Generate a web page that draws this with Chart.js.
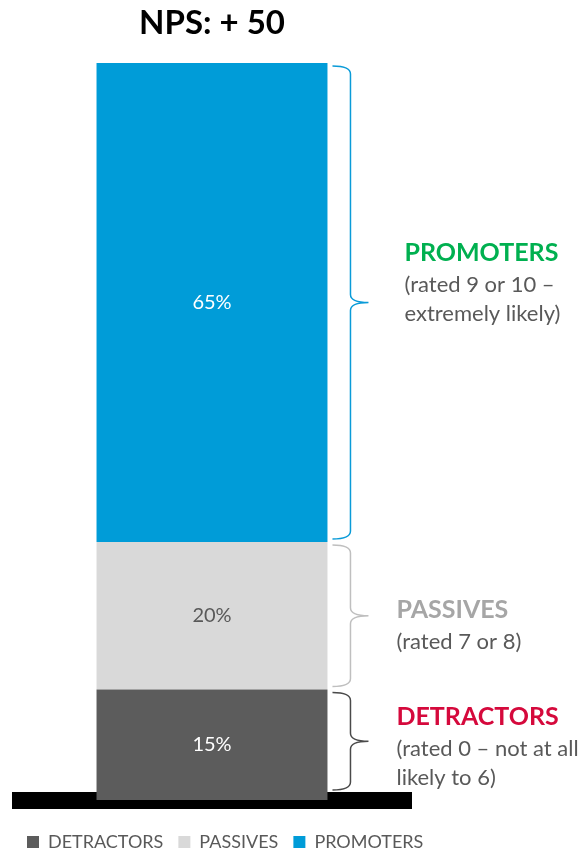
<!DOCTYPE html>
<html>
<head>
<meta charset="utf-8">
<title>NPS</title>
<script src="https://cdn.jsdelivr.net/npm/chart.js@4.4.1/dist/chart.umd.min.js"></script>
<style>
  html, body { margin: 0; padding: 0; background: #fff; overflow: hidden; }
  #wrap { position: relative; width: 583px; height: 861px; }
</style>
</head>
<body>
<div id="wrap"><canvas id="npsChart"></canvas></div>
<script>
// NPS breakdown, bottom to top
const categories = ['NPS'];
const seriesNames = ['DETRACTORS', 'PASSIVES', 'PROMOTERS'];
const seriesValues = [15, 20, 65];
const noteTitles = ['DETRACTORS', 'PASSIVES', 'PROMOTERS'];
const noteLines = [
  ['(rated 0 \u2013 not at all', 'likely to 6)'],
  ['(rated 7 or 8)'],
  ['(rated 9 or 10 \u2013', 'extremely likely)']
];

const barColors = ['#5c5c5c', '#d9d9d9', '#009cd8'];
const valueColors = ['#ffffff', '#595959', '#ffffff'];
const braceColors = ['#4a4a4a', '#bfbfbf', '#0a9bd8'];
const noteColors = ['#d5093c', '#a6a6a6', '#00b050'];
const FONT = 'Lato, "Open Sans", sans-serif';

const npsScore = seriesValues[2] - seriesValues[0];

// percentages inside the bars + braces and notes on the right
const notesPlugin = {
  id: 'npsNotes',
  afterDraw(chart, args, opts) {
    const { ctx, chartArea } = chart;
    ctx.save();
    chart.data.datasets.forEach((ds, i) => {
      const bar = chart.getDatasetMeta(i).data[0];
      if (!bar) return;
      const top = Math.min(bar.y, bar.base);
      const bottom = Math.max(bar.y, bar.base);

      // value label
      ctx.fillStyle = valueColors[i];
      ctx.font = '20px ' + FONT;
      ctx.textAlign = 'center';
      ctx.textBaseline = 'middle';
      ctx.fillText(ds.data[0] + '%', bar.x, (top + bottom) / 2);

      // curly brace
      const right = bar.x + bar.width / 2;
      const x0 = right + 5, xv = right + 23, tip = right + 41;
      const y0 = top + 3;
      const y1 = Math.min(bottom - 3, chartArea.bottom - 10);
      const mid = (y0 + y1) / 2;
      const r = 8;
      ctx.strokeStyle = braceColors[i];
      ctx.lineWidth = 1.5;
      ctx.beginPath();
      ctx.moveTo(x0, y0);
      ctx.quadraticCurveTo(xv, y0, xv, y0 + r);
      ctx.lineTo(xv, mid - r);
      ctx.quadraticCurveTo(xv, mid, tip, mid);
      ctx.quadraticCurveTo(xv, mid, xv, mid + r);
      ctx.lineTo(xv, y1 - r);
      ctx.quadraticCurveTo(xv, y1, x0, y1);
      ctx.stroke();

      // note text
      const place = opts.place[i];
      const tx = tip + place.dx;
      const ty = mid + place.dy;
      ctx.textAlign = 'left';
      ctx.fillStyle = noteColors[i];
      ctx.font = 'bold 25px ' + FONT;
      ctx.fillText(noteTitles[i], tx, ty);
      ctx.fillStyle = '#595959';
      ctx.font = '22px ' + FONT;
      noteLines[i].forEach((line, k) => {
        ctx.fillText(line, tx, ty + 32 + k * 29);
      });
    });
    ctx.restore();
  }
};

new Chart(document.getElementById('npsChart'), {
  type: 'bar',
  data: {
    labels: categories,
    datasets: seriesNames.map((name, i) => ({
      label: name,
      data: [seriesValues[i]],
      backgroundColor: barColors[i],
      borderWidth: 0,
      categoryPercentage: 1,
      barPercentage: 0.603
    }))
  },
  options: {
    responsive: true,
    maintainAspectRatio: false,
    animation: false,
    layout: { padding: { left: 12, right: 0, top: 0, bottom: 0 } },
    scales: {
      x: {
        stacked: true,
        z: 1,
        // thick axis line under the bar acts as the base
        grid: { display: false, drawTicks: false, lineWidth: 17 },
        ticks: { display: false },
        border: { display: true, color: '#000000', width: 17 },
        afterFit: (scale) => { scale.height = 18; }
      },
      y: {
        stacked: true,
        position: 'right',
        min: 0,
        max: 100,
        grid: { display: false, drawTicks: false },
        ticks: { display: false },
        border: { display: false },
        afterFit: (scale) => { scale.width = 179.5; }
      },
      // empty strip on the left so the base line starts at the page margin
      yGutter: {
        type: 'linear',
        position: 'left',
        grid: { display: false, drawTicks: false },
        ticks: { display: false },
        border: { display: false },
        afterFit: (scale) => { scale.width = 8.5; }
      }
    },
    plugins: {
      title: {
        display: true,
        text: 'NPS: + ' + npsScore,
        fullSize: false,
        color: '#000000',
        font: { family: FONT, size: 33, weight: 'bold' },
        padding: { top: 4, bottom: 19.4 }
      },
      legend: {
        position: 'bottom',
        align: 'start',
        labels: {
          boxWidth: 12,
          boxHeight: 12,
          padding: 15,
          color: '#595959',
          font: { family: FONT, size: 18 }
        }
      },
      tooltip: { enabled: false },
      npsNotes: {
        place: [
          { dx: 28, dy: -24 },
          { dx: 28, dy: -6 },
          { dx: 36, dy: -50 }
        ]
      }
    }
  },
  plugins: [notesPlugin]
});
</script>
</body>
</html>
